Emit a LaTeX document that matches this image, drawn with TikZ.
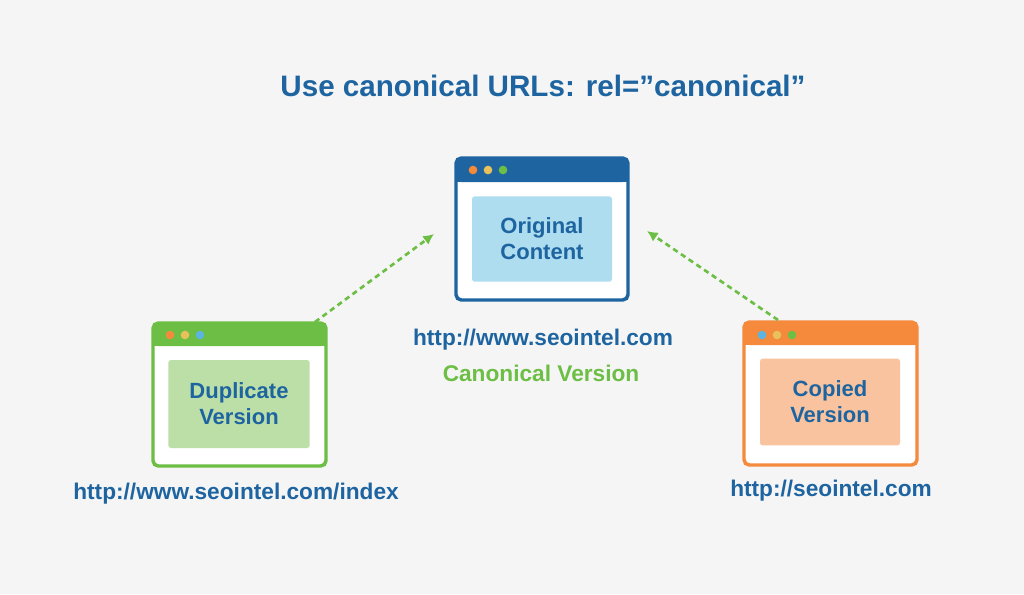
\documentclass[tikz,border=0pt]{standalone}
\usepackage{fontspec}
\usetikzlibrary{arrows.meta}
\setmainfont{Liberation Sans}
\begin{document}
\definecolor{cblue}{HTML}{1D64A0}
\definecolor{cgreen}{HTML}{6DBE45}
\definecolor{corange}{HTML}{F58A3C}
\definecolor{lblue}{HTML}{AEDDF0}
\definecolor{lgreen}{HTML}{BCDFA8}
\definecolor{lorange}{HTML}{F8C39E}
\definecolor{dyellow}{HTML}{E8C15A}
\definecolor{dblue}{HTML}{5BB5E0}
\definecolor{bg}{HTML}{F5F5F5}
\begin{tikzpicture}[x=0.75pt,y=-0.75pt,
  frame/.style={draw=#1,line width=2.6pt,fill=white,rounded corners=4pt},
  dot/.style={circle,inner sep=0pt,minimum size=6.5pt,fill=#1},
  lbl/.style={font=\bfseries\fontsize{16.5}{19.5}\selectfont,text=cblue,align=center,rounded corners=2pt},
  url/.style={font=\bfseries\fontsize{17}{20}\selectfont,text=cblue},
  arr/.style={draw=cgreen,line width=2pt,dash pattern=on 4pt off 3pt,-{Latex[length=8pt,width=8pt]}}]
\useasboundingbox[fill=bg] (0,0) rectangle (1024,594);
\node[font=\bfseries\fontsize{22.2}{26}\selectfont,text=cblue] (title) at (543,86) {Use canonical URLs: rel=”canonical”};
% center
\draw[frame=cblue] (456,158) rectangle (628,300);
\fill[cblue,rounded corners=4pt] (456,158) rectangle (628,182);
\fill[cblue] (456,172) rectangle (628,182);
\node[dot=corange] (c1) at (473,170) {};
\node[dot=dyellow] (c2) at (488,170) {};
\node[dot=cgreen] (c3) at (503,170) {};
\node[fill=lblue,minimum width=105pt,minimum height=64pt,lbl] (orig) at (542,239) {Original\\Content};
% left
\draw[frame=cgreen] (153,323) rectangle (326,466);
\fill[cgreen,rounded corners=4pt] (153,323) rectangle (326,346);
\fill[cgreen] (153,336) rectangle (326,346);
\node[dot=corange] (l1) at (170,335) {};
\node[dot=dyellow] (l2) at (185,335) {};
\node[dot=dblue] (l3) at (200,335) {};
\node[fill=lgreen,minimum width=106pt,minimum height=66pt,lbl] (dup) at (239,404) {Duplicate\\Version};
% right
\draw[frame=corange] (744,322) rectangle (917,465);
\fill[corange,rounded corners=4pt] (744,322) rectangle (917,345);
\fill[corange] (744,335) rectangle (917,345);
\node[dot=dblue] (r1) at (762,335) {};
\node[dot=dyellow] (r2) at (777,335) {};
\node[dot=cgreen] (r3) at (792,335) {};
\node[fill=lorange,minimum width=105pt,minimum height=65pt,lbl] (cop) at (830,402) {Copied\\Version};
% texts
\node[url] (u1) at (543,340) {http://www.seointel.com};
\node[font=\bfseries\fontsize{17}{20}\selectfont,text=cgreen] (cv) at (541,373) {Canonical Version};
\node[url] (u2) at (236,494) {http://www.seointel.com/index};
\node[url] (u3) at (831,491) {http://seointel.com};
% arrows
\coordinate (a1s) at (315,322); \coordinate (a1e) at (434,234);
\coordinate (a2s) at (778,320); \coordinate (a2e) at (647,231);
\draw[arr] (a1s) -- (a1e);
\draw[arr] (a2s) -- (a2e);
\end{tikzpicture}
\end{document}
